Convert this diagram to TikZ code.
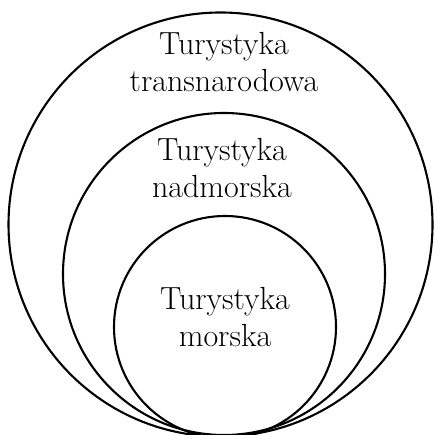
\documentclass[tikz,border=0pt]{standalone}
\usepackage{tikz}
\usetikzlibrary{positioning}

\tikzset{
    ring/.style={circle, draw, line width=2.1pt, inner sep=0pt},
    label text/.style={align=center, anchor=south, font=\fontsize{32}{37}\selectfont, inner sep=0pt}
}

\begin{document}
\begin{tikzpicture}[x=1pt, y=1pt]
    \useasboundingbox (0,0) rectangle (434,435);
    % nested circles, all touching at the bottom
    \node[ring, minimum size=424pt] (outer) at (220.5,210.5) {};
    \node[ring, minimum size=322pt] (middle) at (224,161) {};
    \node[ring, minimum size=222pt] (inner) at (225,108) {};
    % texts
    \node[label text] (outertext) at (224,343) {Turystyka\\transnarodowa};
    \node[label text] (middletext) at (222,237) {Turystyka\\nadmorska};
    \node[label text] (innertext) at (225,88) {Turystyka\\morska};
\end{tikzpicture}
\end{document}
